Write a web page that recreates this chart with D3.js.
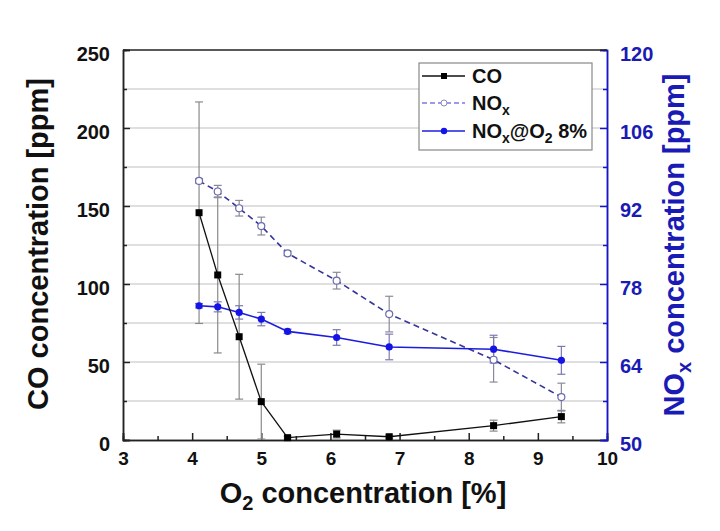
<!DOCTYPE html>
<html><head><meta charset="utf-8">
<script src="https://cdn.jsdelivr.net/npm/d3@7"></script>
<style>body{margin:0;background:#fff}svg{display:block}text{font-family:"Liberation Sans",Arial,sans-serif;font-weight:bold}</style>
</head><body><svg id="c" width="720" height="531"></svg>
<script>
const o2 = [4.1, 4.37, 4.68, 5.0, 5.38, 6.09, 6.85, 8.36, 9.34];
const co = [145.7, 105.8, 66.2, 24.6, 1.5, 3.8, 2.1, 9.2, 15];
const coErr = [71, 50, 40, 24, 1, 2.5, 1, 3.5, 4];
const nox = [96.5, 94.6, 91.6, 88.4, 83.5, 78.6, 72.6, 64.4, 57.7];
const noxErr = [0.4, 1.1, 1.4, 1.6, 0.4, 1.5, 3.2, 4, 2.5];
const nox8 = [74.1, 73.9, 72.9, 71.7, 69.5, 68.4, 66.7, 66.3, 64.3];
const nox8Err = [0.4, 0.9, 1.2, 1.2, 0.4, 1.4, 2.3, 2.5, 2.5];
const xTicks = [3,4,5,6,7,8,9,10];
const yLeftTicks = [0,50,100,150,200,250];
const yRightTicks = [50,64,78,92,106,120];

const svg = d3.select("#c");
const L=123, R=607, T=50, B=440;
const x = d3.scaleLinear().domain([3,10]).range([L,R]);
const yL = d3.scaleLinear().domain([0,250]).range([B,T]);
const yR = d3.scaleLinear().domain([50,120]).range([B,T]);

// grid
svg.append("g").selectAll("line").data(d3.range(25,250,25)).join("line")
  .attr("x1",L).attr("x2",R).attr("y1",d=>yL(d)).attr("y2",d=>yL(d))
  .attr("stroke","#d4d4d4").attr("stroke-width",1.5);

// axes
const gx = svg.append("g").attr("transform",`translate(0,${B})`)
  .call(d3.axisBottom(x).tickValues(xTicks).tickFormat(d3.format("d")).tickSize(-7).tickPadding(12));
const gxm = svg.append("g").attr("transform",`translate(0,${B})`)
  .call(d3.axisBottom(x).tickValues(d3.range(3.5,10,1)).tickFormat("").tickSize(-4));
const gl = svg.append("g").attr("transform",`translate(${L},0)`)
  .call(d3.axisLeft(yL).tickValues(yLeftTicks).tickSize(-7).tickPadding(13));
const glm = svg.append("g").attr("transform",`translate(${L},0)`)
  .call(d3.axisLeft(yL).tickValues(d3.range(25,250,50)).tickFormat("").tickSize(-4));
const gr = svg.append("g").attr("transform",`translate(${R},0)`)
  .call(d3.axisRight(yR).tickValues(yRightTicks).tickSize(-7).tickPadding(13));
const grm = svg.append("g").attr("transform",`translate(${R},0)`)
  .call(d3.axisRight(yR).tickValues(d3.range(57,120,14)).tickFormat("").tickSize(-4));
[gx,gxm,gl,glm].forEach(g=>{g.selectAll("path,line").attr("stroke","#222").attr("stroke-width",1.5);g.selectAll("text").attr("fill","#111").style("font-size","20px").style("font-family","Liberation Sans, Arial").style("font-weight","bold");});
[gr,grm].forEach(g=>{g.selectAll("path,line").attr("stroke","#1515c8").attr("stroke-width",1.5);g.selectAll("text").attr("fill","#1a1ab4").style("font-size","20px").style("font-family","Liberation Sans, Arial").style("font-weight","bold");});
gx.selectAll("text").style("font-size","19px");
gl.selectAll("text").attr("dy","0.5em");
gr.selectAll("text").attr("dy","0.5em");
// top border
svg.append("line").attr("x1",L).attr("x2",R).attr("y1",T).attr("y2",T).attr("stroke","#222").attr("stroke-width",1.5);

// error bars
function errs(vals, err, sc, color){
  const g = svg.append("g").attr("stroke",color).attr("stroke-width",1.2);
  vals.forEach((v,i)=>{
    const cx=x(o2[i]), y1=sc(v-err[i]), y2=sc(v+err[i]);
    g.append("line").attr("x1",cx).attr("x2",cx).attr("y1",y1).attr("y2",y2);
    g.append("line").attr("x1",cx-4).attr("x2",cx+4).attr("y1",y1).attr("y2",y1);
    g.append("line").attr("x1",cx-4).attr("x2",cx+4).attr("y1",y2).attr("y2",y2);
  });
}
errs(co, coErr, yL, "#8a8a8a");
errs(nox, noxErr, yR, "#8a8a9a");
errs(nox8, nox8Err, yR, "#7a7ab0");

const ln = sc => d3.line().x((d,i)=>x(o2[i])).y(d=>sc(d));
// NOx dashed
svg.append("path").datum(nox).attr("d",ln(yR)).attr("fill","none").attr("stroke","#35359a").attr("stroke-width",1.6).attr("stroke-dasharray","6,4");
svg.append("g").selectAll("circle").data(nox).join("circle").attr("cx",(d,i)=>x(o2[i])).attr("cy",d=>yR(d)).attr("r",3.5).attr("fill","#fff").attr("stroke","#6a6ab0").attr("stroke-width",1.2);
// NOx@O2 8%
svg.append("path").datum(nox8).attr("d",ln(yR)).attr("fill","none").attr("stroke","#1c1ce0").attr("stroke-width",1.6);
svg.append("g").selectAll("circle").data(nox8).join("circle").attr("cx",(d,i)=>x(o2[i])).attr("cy",d=>yR(d)).attr("r",3.6).attr("fill","#1414e6");
// CO
svg.append("path").datum(co).attr("d",ln(yL)).attr("fill","none").attr("stroke","#111").attr("stroke-width",1.3);
svg.append("g").selectAll("rect").data(co).join("rect").attr("x",(d,i)=>x(o2[i])-3.5).attr("y",d=>yL(d)-3.5).attr("width",7).attr("height",7).attr("fill","#000");

// legend
const lg = svg.append("g");
lg.append("rect").attr("x",419).attr("y",63).attr("width",173).attr("height",87).attr("fill","#fff").attr("stroke","#888").attr("stroke-width",1.2);
const ly=[76,103,131];
lg.append("line").attr("x1",422).attr("x2",465).attr("y1",ly[0]).attr("y2",ly[0]).attr("stroke","#111").attr("stroke-width",1.3);
lg.append("rect").attr("x",441).attr("y",ly[0]-3).attr("width",6).attr("height",6).attr("fill","#000");
lg.append("line").attr("x1",422).attr("x2",465).attr("y1",ly[1]).attr("y2",ly[1]).attr("stroke","#7b7be6").attr("stroke-width",1.4).attr("stroke-dasharray","5,3");
lg.append("circle").attr("cx",444).attr("cy",ly[1]).attr("r",3).attr("fill","#fff").attr("stroke","#8a8ab8");
lg.append("line").attr("x1",422).attr("x2",465).attr("y1",ly[2]).attr("y2",ly[2]).attr("stroke","#1c1ce0").attr("stroke-width",1.4);
lg.append("circle").attr("cx",444).attr("cy",ly[2]).attr("r",3.2).attr("fill","#1414e6");
const lt = (y)=>lg.append("text").attr("x",472).attr("y",y+7).style("font-size","20px").attr("fill","#111");
lt(ly[0]).text("CO");
const t2=lt(ly[1]); t2.append("tspan").text("NO"); t2.append("tspan").text("x").style("font-size","14px").attr("dy",5);
const t3=lt(ly[2]); t3.append("tspan").text("NO"); t3.append("tspan").text("x").style("font-size","14px").attr("dy",5);
t3.append("tspan").text("@O").attr("dy",-5); t3.append("tspan").text("2").style("font-size","14px").attr("dy",5); t3.append("tspan").text(" 8%").attr("dy",-5);

// axis titles
svg.append("text").attr("transform","translate(48,244) rotate(-90)").attr("text-anchor","middle").style("font-size","29px").attr("fill","#111").text("CO concentration [ppm]");
const rt = svg.append("text").attr("transform","translate(684,245) rotate(-90)").attr("text-anchor","middle").style("font-size","29px").attr("fill","#1a1ab4");
rt.append("tspan").text("NO"); rt.append("tspan").text("x").style("font-size","20px").attr("dy",7); rt.append("tspan").text(" concentration [ppm]").attr("dy",-7);
const xt = svg.append("text").attr("x",363).attr("y",503).attr("text-anchor","middle").style("font-size","29px").attr("fill","#111");
xt.append("tspan").text("O"); xt.append("tspan").text("2").style("font-size","20px").attr("dy",7); xt.append("tspan").text(" concentration [%]").attr("dy",-7);
</script></body></html>
